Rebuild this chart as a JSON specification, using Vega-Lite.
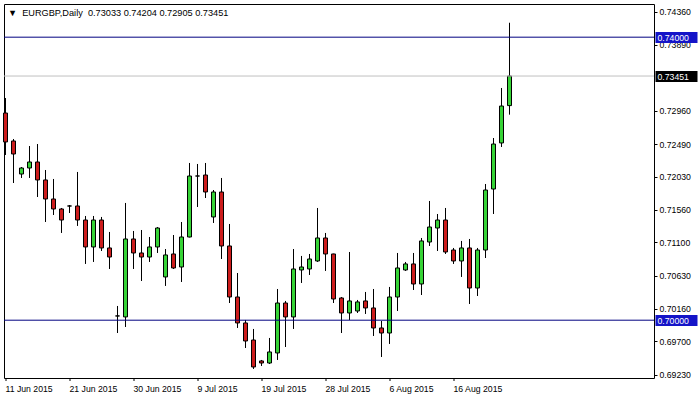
{
  "$schema": "https://vega.github.io/schema/vega-lite/v6.json",
  "width": 650,
  "height": 374,
  "autosize": {"type": "none"},
  "padding": {"left": 4, "top": 4, "right": 45, "bottom": 20},
  "background": "#ffffff",
  "config": {
    "view": {"stroke": "#000000", "strokeWidth": 1},
    "axis": {"labelFont": "Liberation Sans", "labelFontSize": 8.7, "labelColor": "#000000", "tickColor": "#000000", "tickWidth": 1, "domain": false, "grid": false}
  },
  "title": {
    "text": "▼\u00a0\u00a0EURGBP,Daily\u00a0\u00a00.73033 0.74204 0.72905 0.73451",
    "anchor": "start",
    "frame": "group",
    "orient": "top",
    "baseline": "alphabetic",
    "offset": -21,
    "dx": 4,
    "font": "Liberation Sans",
    "fontSize": 9.2,
    "fontWeight": "normal",
    "color": "#000000"
  },
  "datasets": {
    "candles": [
      {"i": 0, "date": "2015-06-11", "open": 0.72928, "high": 0.73140, "low": 0.72335, "close": 0.72519},
      {"i": 1, "date": "2015-06-12", "open": 0.72533, "high": 0.72561, "low": 0.71939, "close": 0.72349},
      {"i": 2, "date": "2015-06-14", "open": 0.72066, "high": 0.72165, "low": 0.72010, "close": 0.72151},
      {"i": 3, "date": "2015-06-15", "open": 0.72151, "high": 0.72462, "low": 0.72010, "close": 0.72236},
      {"i": 4, "date": "2015-06-16", "open": 0.72236, "high": 0.72490, "low": 0.71741, "close": 0.71982},
      {"i": 5, "date": "2015-06-17", "open": 0.71982, "high": 0.72123, "low": 0.71388, "close": 0.71713},
      {"i": 6, "date": "2015-06-18", "open": 0.71713, "high": 0.71996, "low": 0.71487, "close": 0.71572},
      {"i": 7, "date": "2015-06-19", "open": 0.71572, "high": 0.71586, "low": 0.71233, "close": 0.71416},
      {"i": 8, "date": "2015-06-21", "open": 0.71614, "high": 0.71628, "low": 0.71515, "close": 0.71614},
      {"i": 9, "date": "2015-06-22", "open": 0.71614, "high": 0.72095, "low": 0.71332, "close": 0.71416},
      {"i": 10, "date": "2015-06-23", "open": 0.71416, "high": 0.71473, "low": 0.70795, "close": 0.71035},
      {"i": 11, "date": "2015-06-24", "open": 0.71035, "high": 0.71473, "low": 0.70823, "close": 0.71416},
      {"i": 12, "date": "2015-06-25", "open": 0.71416, "high": 0.71459, "low": 0.70978, "close": 0.71021},
      {"i": 13, "date": "2015-06-26", "open": 0.71021, "high": 0.71247, "low": 0.70724, "close": 0.70893},
      {"i": 14, "date": "2015-06-28", "open": 0.70060, "high": 0.70201, "low": 0.69819, "close": 0.70060},
      {"i": 15, "date": "2015-06-29", "open": 0.70046, "high": 0.71657, "low": 0.69904, "close": 0.71148},
      {"i": 16, "date": "2015-06-30", "open": 0.71148, "high": 0.71261, "low": 0.70724, "close": 0.70950},
      {"i": 17, "date": "2015-07-01", "open": 0.70950, "high": 0.71275, "low": 0.70554, "close": 0.70893},
      {"i": 18, "date": "2015-07-02", "open": 0.70893, "high": 0.71176, "low": 0.70823, "close": 0.71035},
      {"i": 19, "date": "2015-07-03", "open": 0.71035, "high": 0.71317, "low": 0.70950, "close": 0.71303},
      {"i": 20, "date": "2015-07-05", "open": 0.70611, "high": 0.71006, "low": 0.70484, "close": 0.70922},
      {"i": 21, "date": "2015-07-06", "open": 0.70936, "high": 0.71204, "low": 0.70724, "close": 0.70738},
      {"i": 22, "date": "2015-07-07", "open": 0.70752, "high": 0.71388, "low": 0.70540, "close": 0.71176},
      {"i": 23, "date": "2015-07-08", "open": 0.71176, "high": 0.72222, "low": 0.71170, "close": 0.72038},
      {"i": 24, "date": "2015-07-09", "open": 0.72038, "high": 0.72208, "low": 0.71600, "close": 0.72038},
      {"i": 25, "date": "2015-07-10", "open": 0.72052, "high": 0.72222, "low": 0.71727, "close": 0.71812},
      {"i": 26, "date": "2015-07-12", "open": 0.71459, "high": 0.71840, "low": 0.71374, "close": 0.71812},
      {"i": 27, "date": "2015-07-13", "open": 0.71812, "high": 0.72010, "low": 0.70865, "close": 0.71049},
      {"i": 28, "date": "2015-07-14", "open": 0.71049, "high": 0.71360, "low": 0.70243, "close": 0.70328},
      {"i": 29, "date": "2015-07-15", "open": 0.70328, "high": 0.70667, "low": 0.69890, "close": 0.69961},
      {"i": 30, "date": "2015-07-16", "open": 0.69961, "high": 0.70003, "low": 0.69607, "close": 0.69706},
      {"i": 31, "date": "2015-07-17", "open": 0.69720, "high": 0.69876, "low": 0.69311, "close": 0.69339},
      {"i": 32, "date": "2015-07-19", "open": 0.69424, "high": 0.69438, "low": 0.69353, "close": 0.69395},
      {"i": 33, "date": "2015-07-20", "open": 0.69395, "high": 0.69749, "low": 0.69381, "close": 0.69551},
      {"i": 34, "date": "2015-07-21", "open": 0.69537, "high": 0.70441, "low": 0.69438, "close": 0.70243},
      {"i": 35, "date": "2015-07-22", "open": 0.70243, "high": 0.70272, "low": 0.69621, "close": 0.70046},
      {"i": 36, "date": "2015-07-23", "open": 0.70046, "high": 0.71006, "low": 0.69876, "close": 0.70724},
      {"i": 37, "date": "2015-07-24", "open": 0.70710, "high": 0.70908, "low": 0.70526, "close": 0.70752},
      {"i": 38, "date": "2015-07-26", "open": 0.70724, "high": 0.70936, "low": 0.70639, "close": 0.70865},
      {"i": 39, "date": "2015-07-27", "open": 0.70837, "high": 0.71586, "low": 0.70823, "close": 0.71162},
      {"i": 40, "date": "2015-07-28", "open": 0.71162, "high": 0.71233, "low": 0.70696, "close": 0.70936},
      {"i": 41, "date": "2015-07-29", "open": 0.70936, "high": 0.70940, "low": 0.70243, "close": 0.70300},
      {"i": 42, "date": "2015-07-30", "open": 0.70314, "high": 0.70328, "low": 0.69819, "close": 0.70102},
      {"i": 43, "date": "2015-07-31", "open": 0.70102, "high": 0.70964, "low": 0.70003, "close": 0.70272},
      {"i": 44, "date": "2015-08-02", "open": 0.70130, "high": 0.70286, "low": 0.70102, "close": 0.70258},
      {"i": 45, "date": "2015-08-03", "open": 0.70272, "high": 0.70399, "low": 0.70088, "close": 0.70173},
      {"i": 46, "date": "2015-08-04", "open": 0.70173, "high": 0.70441, "low": 0.69777, "close": 0.69890},
      {"i": 47, "date": "2015-08-05", "open": 0.69890, "high": 0.69989, "low": 0.69480, "close": 0.69819},
      {"i": 48, "date": "2015-08-06", "open": 0.69819, "high": 0.70470, "low": 0.69664, "close": 0.70328},
      {"i": 49, "date": "2015-08-07", "open": 0.70328, "high": 0.70950, "low": 0.70130, "close": 0.70738},
      {"i": 50, "date": "2015-08-09", "open": 0.70710, "high": 0.70823, "low": 0.70696, "close": 0.70795},
      {"i": 51, "date": "2015-08-10", "open": 0.70795, "high": 0.70950, "low": 0.70427, "close": 0.70512},
      {"i": 52, "date": "2015-08-11", "open": 0.70512, "high": 0.71162, "low": 0.70356, "close": 0.71120},
      {"i": 53, "date": "2015-08-12", "open": 0.71105, "high": 0.71685, "low": 0.71049, "close": 0.71317},
      {"i": 54, "date": "2015-08-13", "open": 0.71303, "high": 0.71501, "low": 0.70978, "close": 0.71416},
      {"i": 55, "date": "2015-08-14", "open": 0.71416, "high": 0.71586, "low": 0.70936, "close": 0.70964},
      {"i": 56, "date": "2015-08-16", "open": 0.70992, "high": 0.71021, "low": 0.70795, "close": 0.70837},
      {"i": 57, "date": "2015-08-17", "open": 0.70837, "high": 0.71120, "low": 0.70611, "close": 0.71021},
      {"i": 58, "date": "2015-08-18", "open": 0.71021, "high": 0.71148, "low": 0.70229, "close": 0.70455},
      {"i": 59, "date": "2015-08-19", "open": 0.70455, "high": 0.71021, "low": 0.70342, "close": 0.70992},
      {"i": 60, "date": "2015-08-20", "open": 0.70992, "high": 0.71925, "low": 0.70879, "close": 0.71840},
      {"i": 61, "date": "2015-08-21", "open": 0.71854, "high": 0.72575, "low": 0.71501, "close": 0.72490},
      {"i": 62, "date": "2015-08-23", "open": 0.72505, "high": 0.73282, "low": 0.72448, "close": 0.73027},
      {"i": 63, "date": "2015-08-24", "open": 0.73033, "high": 0.74204, "low": 0.72905, "close": 0.73451}
    ],
    "levels": [{"price": 0.74000}, {"price": 0.70000}],
    "bid": [{"price": 0.73451}]
  },
  "layer": [
    {
      "data": {"name": "candles"},
      "mark": {"type": "rule", "color": "#000000", "strokeWidth": 1},
      "encoding": {
        "x": {
          "field": "i", "type": "quantitative",
          "scale": {"domain": [-0.1875, 81.0625], "nice": false, "zero": false, "padding": 0},
          "axis": {
            "orient": "bottom", "title": null, "values": [0, 8, 16, 24, 32, 40, 48, 56],
            "labelExpr": "['11 Jun 2015','21 Jun 2015','30 Jun 2015','9 Jul 2015','19 Jul 2015','28 Jul 2015','6 Aug 2015','16 Aug 2015'][datum.value / 8]",
            "tickSize": 3, "translate": 0, "labelAlign": "left", "labelBaseline": "top", "labelPadding": 4,
            "labelFlush": false, "labelOverlap": false, "labelBound": false
          }
        },
        "y": {
          "field": "low", "type": "quantitative",
          "scale": {"domain": [0.69183, 0.74469], "nice": false, "zero": false},
          "axis": {
            "orient": "right", "title": null,
            "values": [0.6923, 0.697, 0.7016, 0.7063, 0.711, 0.7156, 0.7203, 0.7249, 0.7296, 0.7389, 0.7436],
            "format": ".5f", "tickSize": 3, "labelPadding": 2, "labelOverlap": false, "labelBound": false, "labelFlush": false
          }
        },
        "y2": {"field": "high"}
      }
    },
    {
      "data": {"name": "candles"},
      "mark": {"type": "bar", "size": 4, "stroke": "#000000", "strokeWidth": 1},
      "encoding": {
        "x": {"field": "i", "type": "quantitative"},
        "y": {"field": "open", "type": "quantitative", "axis": null},
        "y2": {"field": "close"},
        "fill": {
          "condition": [
            {"test": "datum.close > datum.open", "value": "#36d336"},
            {"test": "datum.close < datum.open", "value": "#cc1c1c"}
          ],
          "value": "#000000"
        }
      }
    },
    {
      "data": {"name": "levels"},
      "mark": {"type": "rule", "color": "#000080", "strokeWidth": 1},
      "encoding": {
        "y": {
          "field": "price", "type": "quantitative",
          "axis": {
            "orient": "right", "title": null, "values": [0.74, 0.70], "format": ".5f",
            "offset": 1, "tickSize": 42, "tickWidth": 11, "tickColor": "#1414c8", "tickCap": "butt",
            "labelPadding": -40, "labelColor": "#ffffff", "labelOverlap": false, "labelBound": false, "labelFlush": false
          }
        }
      }
    },
    {
      "data": {"name": "bid"},
      "mark": {"type": "rule", "color": "#c0c0c0", "strokeWidth": 1},
      "encoding": {
        "y": {
          "field": "price", "type": "quantitative",
          "axis": {
            "orient": "right", "title": null, "values": [0.73451], "format": ".5f",
            "offset": 1, "tickSize": 42, "tickWidth": 11, "tickColor": "#000000", "tickCap": "butt",
            "labelPadding": -40, "labelColor": "#ffffff", "labelOverlap": false, "labelBound": false, "labelFlush": false
          }
        }
      }
    }
  ],
  "resolve": {"axis": {"y": "independent"}}
}
